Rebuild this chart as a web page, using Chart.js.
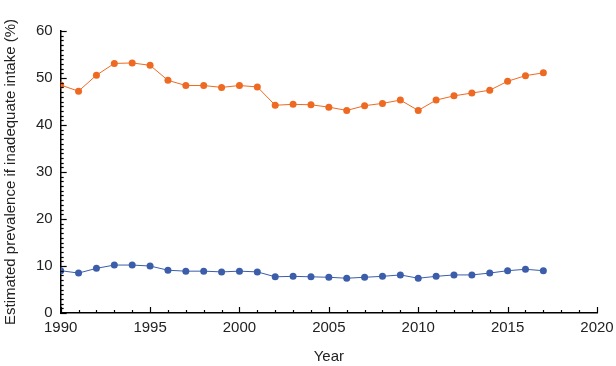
<!DOCTYPE html>
<html>
<head>
<meta charset="utf-8">
<script src="https://cdn.jsdelivr.net/npm/chart.js@4"></script>
<style>
  html, body { margin: 0; padding: 0; background: #fff; }
  #wrap { width: 616px; height: 366px; }
</style>
</head>
<body>
<div id="wrap"><canvas id="chart"></canvas></div>
<script>
// data
const years = [1990, 1991, 1992, 1993, 1994, 1995, 1996, 1997, 1998, 1999, 2000, 2001, 2002, 2003,
  2004, 2005, 2006, 2007, 2008, 2009, 2010, 2011, 2012, 2013, 2014, 2015, 2016, 2017];
const orangeSeries = [48.5, 47.2, 50.6, 53.1, 53.2, 52.7, 49.5, 48.4, 48.4, 48.0, 48.4, 48.1, 44.2, 44.4,
  44.3, 43.8, 43.1, 44.1, 44.6, 45.3, 43.1, 45.3, 46.2, 46.8, 47.4, 49.3, 50.5, 51.1];
const blueSeries = [9.0, 8.5, 9.5, 10.2, 10.2, 10.0, 9.1, 8.9, 8.9, 8.75, 8.9, 8.75, 7.7, 7.8,
  7.7, 7.6, 7.4, 7.6, 7.8, 8.1, 7.4, 7.8, 8.1, 8.1, 8.5, 9.0, 9.3, 9.0];
const xRange = [1990, 2020];
const yRange = [0, 60];

const ORANGE = '#EE6A22';
const BLUE = '#3B5DAA';
const FONT = "'Liberation Sans', Arial, sans-serif";

// inward tick marks, major + minor
const innerTicks = {
  id: 'innerTicks',
  afterDraw(chart) {
    const ctx = chart.ctx;
    const area = chart.chartArea;
    ctx.save();
    ctx.strokeStyle = '#000';
    ctx.lineWidth = 1.2;
    chart.scales.x.ticks.forEach(t => {
      const px = Math.round(chart.scales.x.getPixelForValue(t.value)) + 0.5;
      const len = t.value % 5 === 0 ? 6 : 3;
      ctx.beginPath();
      ctx.moveTo(px, area.bottom);
      ctx.lineTo(px, area.bottom - len);
      ctx.stroke();
    });
    chart.scales.y.ticks.forEach(t => {
      const py = Math.round(chart.scales.y.getPixelForValue(t.value)) + 0.5;
      const len = t.value % 10 === 0 ? 6 : 3;
      ctx.beginPath();
      ctx.moveTo(area.left, py);
      ctx.lineTo(area.left + len, py);
      ctx.stroke();
    });
    ctx.restore();
  }
};

const ds = (vals, color) => ({
  data: years.map((y, i) => ({ x: y, y: vals[i] })),
  borderColor: color,
  backgroundColor: color,
  borderWidth: 1,
  pointRadius: 3.5,
  pointBorderWidth: 0,
  tension: 0
});

new Chart(document.getElementById('chart'), {
  type: 'line',
  data: { datasets: [ds(orangeSeries, ORANGE), ds(blueSeries, BLUE)] },
  options: {
    responsive: true,
    maintainAspectRatio: false,
    animation: false,
    layout: { padding: { top: 31, right: 0, left: 2, bottom: 0 } },
    plugins: { legend: { display: false }, tooltip: { enabled: false } },
    scales: {
      x: {
        type: 'linear',
        min: xRange[0], max: xRange[1],
        afterFit: s => { s.paddingRight = 19; },
        grid: { drawOnChartArea: false, drawTicks: false },
        border: { display: true, color: '#000', width: 1.5 },
        ticks: {
          stepSize: 1, maxTicksLimit: 100, autoSkip: false, maxRotation: 0, padding: 6,
          color: '#222', font: { family: FONT, size: 15 },
          callback: v => (v % 5 === 0 ? String(v) : '')
        },
        title: { display: true, text: 'Year', color: '#222', font: { family: FONT, size: 15 }, padding: { top: 5, bottom: 0 } }
      },
      y: {
        min: yRange[0], max: yRange[1],
        grid: { drawOnChartArea: false, drawTicks: false },
        border: { display: true, color: '#000', width: 1.5 },
        ticks: {
          stepSize: 1, maxTicksLimit: 100, autoSkip: false, padding: 8,
          color: '#222', font: { family: FONT, size: 15 },
          callback: v => (v % 10 === 0 ? String(v) : '')
        },
        title: { display: true, text: 'Estimated prevalence if inadequate intake (%)', color: '#222', font: { family: FONT, size: 15 }, padding: { top: 0, bottom: 8 } }
      }
    }
  },
  plugins: [innerTicks]
});
</script>
</body>
</html>
